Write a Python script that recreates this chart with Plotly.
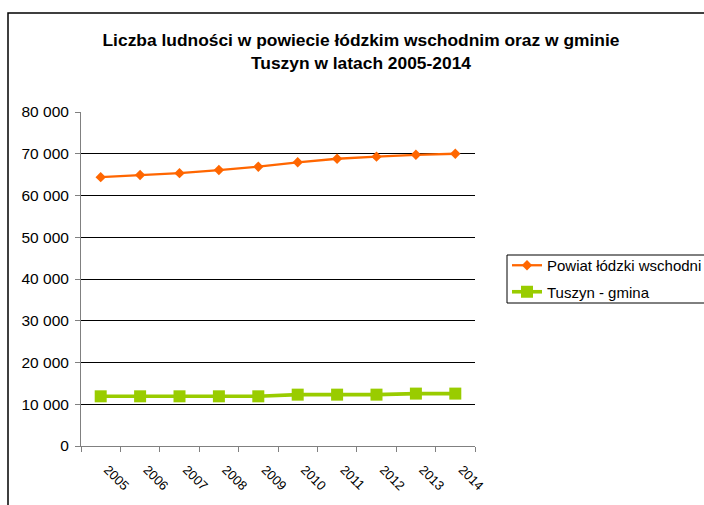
import plotly.graph_objects as go

years = ["2005", "2006", "2007", "2008", "2009", "2010", "2011", "2012", "2013", "2014"]
powiat = [64400, 64900, 65350, 66100, 66900, 67950, 68800, 69300, 69750, 70000]
tuszyn = [11900, 11900, 11900, 11900, 11900, 12300, 12300, 12300, 12550, 12550]
ytick_vals = [0, 10000, 20000, 30000, 40000, 50000, 60000, 70000, 80000]
ytick_text = ["0", "10 000", "20 000", "30 000", "40 000", "50 000", "60 000", "70 000", "80 000"]

FONT = "Arial, Liberation Sans, sans-serif"

# plot area in pixels
PL, PR, PT, PB = 81, 475, 112, 446
W, H = 704, 505
PW, PH = PR - PL, PB - PT

def px(x):
    return (x - PL) / PW

def py(y):
    return (PB - y) / PH

fig = go.Figure()
fig.add_trace(go.Scatter(
    x=years, y=powiat, name="Powiat łódzki wschodni", mode="lines+markers",
    legendgroup="a",
    line=dict(color="#FF6600", width=2.3),
    marker=dict(symbol="diamond", size=8, color="#FF6600"),
))
fig.add_trace(go.Scatter(
    x=years, y=tuszyn, name="Tuszyn - gmina", mode="lines+markers",
    legendgroup="b",
    line=dict(color="#99CC00", width=3.6),
    marker=dict(symbol="square", size=12, color="#99CC00"),
))

fig.update_layout(
    width=W, height=H,
    margin=dict(l=PL, r=W - PR, t=PT, b=H - PB, autoexpand=False),
    paper_bgcolor="white", plot_bgcolor="white",
    font=dict(family=FONT, size=15, color="black"),
    title=dict(
        text="<b>Liczba ludności w powiecie łódzkim wschodnim oraz w gminie<br>Tuszyn w latach 2005-2014</b>",
        x=361 / W, xref="container", xanchor="center",
        y=1 - 46 / H, yref="container", yanchor="top",
        font=dict(family=FONT, size=17.4, color="black"),
    ),
    xaxis=dict(
        type="category", range=[-0.5, len(years) - 0.5],
        tickson="boundaries", ticks="outside", ticklen=5,
        tickcolor="#808080", showline=True, linecolor="#808080", linewidth=1,
        showgrid=False, tickangle=45, tickfont=dict(size=13),
        ticklabelstandoff=10, ticklabelshift=7,
    ),
    yaxis=dict(
        range=[0, 80000], tickvals=ytick_vals, ticktext=ytick_text,
        ticks="outside", ticklen=5, tickcolor="#808080",
        showline=True, linecolor="#808080", linewidth=1,
        showgrid=True, gridcolor="black", gridwidth=1, zeroline=False,
        tickfont=dict(size=15.5), ticklabelstandoff=3,
    ),
    legend=dict(
        x=px(507), y=py(249), xanchor="left", yanchor="top",
        borderwidth=0, bgcolor="rgba(0,0,0,0)",
        font=dict(size=15), traceorder="grouped", tracegroupgap=4,
    ),
    showlegend=True,
    shapes=[
        dict(
            type="rect", xref="paper", yref="paper",
            x0=px(8), x1=px(720), y0=py(520), y1=py(13),
            line=dict(color="black", width=1.5), fillcolor="rgba(0,0,0,0)", layer="above",
        ),
        dict(
            type="rect", xref="paper", yref="paper",
            x0=px(507), x1=px(720), y0=py(303), y1=py(255),
            line=dict(color="black", width=1), fillcolor="rgba(0,0,0,0)", layer="above",
        ),
    ],
)

fig.write_html(
    "out.html",
    config={"displayModeBar": False},
    post_script="document.body.style.margin='0';document.body.style.overflow='hidden';",
)
